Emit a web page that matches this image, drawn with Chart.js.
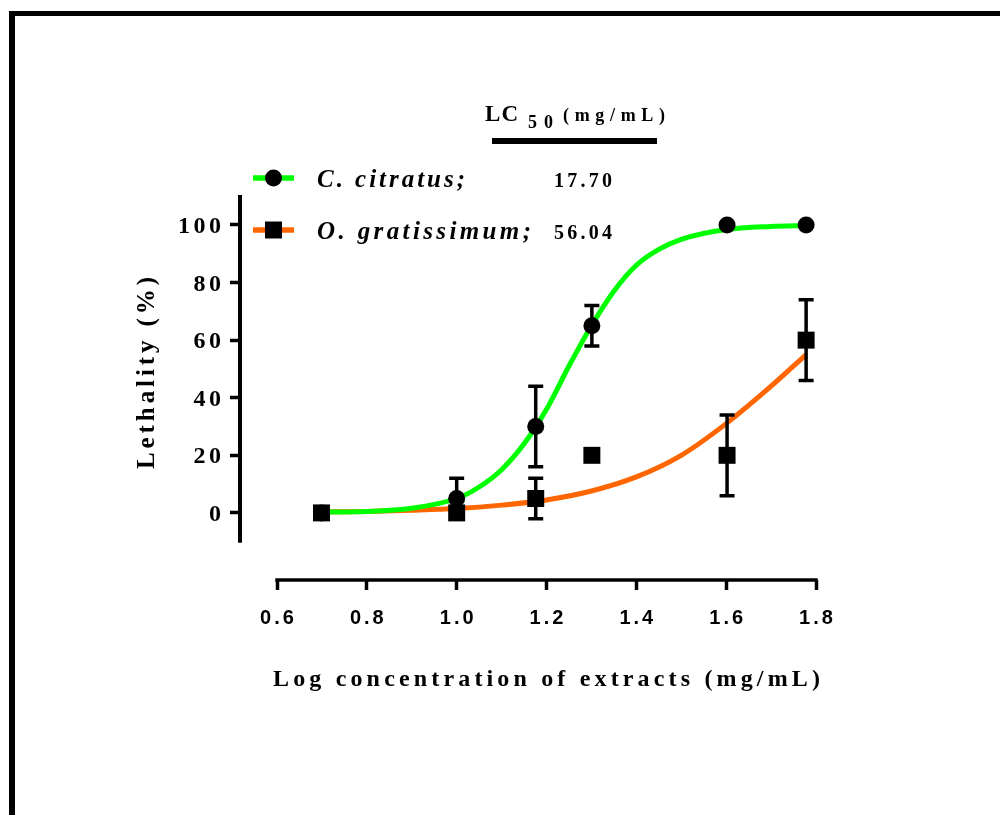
<!DOCTYPE html>
<html>
<head>
<meta charset="utf-8">
<script src="https://cdn.jsdelivr.net/npm/chart.js@4"></script>
<style>
  html, body { margin: 0; padding: 0; background: #fff; overflow: hidden; }
  #wrap { position: relative; width: 1000px; height: 815px; }
  #frame { position: absolute; left: 9px; top: 11px; right: 0; bottom: 0;
           border-top: 5px solid #000; border-left: 6px solid #000; pointer-events: none; }
</style>
</head>
<body>
<div id="wrap">
  <canvas id="chart" width="1000" height="815"></canvas>
  <div id="frame"></div>
</div>
<script>
'use strict';
// data
var seriesNames = ['C. citratus;', 'O. gratissimum;'];
var lc50Values = ['17.70', '56.04'];
var logConc = [0.699, 1.0, 1.176, 1.301, 1.602, 1.778];
var citratusMean = [0, 5, 30, 65, 100, 100];
var citratusErr = [0, 7, 14, 7, 0, 0];
var gratissimumMean = [0, 0, 5, 20, 20, 60];
var gratissimumErr = [0, 0, 7, 0, 14, 14];

// fitted curves
var citratusCurveX = [0.699, 0.8, 0.9, 1.0, 1.05, 1.1, 1.15, 1.2, 1.25, 1.3, 1.35, 1.4, 1.45, 1.5, 1.6, 1.7, 1.778];
var citratusCurveY = [0.3, 0.5, 1.6, 5, 9, 15, 24, 36, 51, 65, 77, 86, 91.5, 95, 98.4, 99.5, 99.8];
var gratissimumCurveX = [0.699, 0.8, 0.9, 1.0, 1.1, 1.2, 1.3, 1.4, 1.5, 1.6, 1.7, 1.778];
var gratissimumCurveY = [0.3, 0.5, 0.9, 1.5, 2.7, 4.5, 7.6, 12.5, 20, 31, 44, 55];

var xTicks = [0.6, 0.8, 1.0, 1.2, 1.4, 1.6, 1.8];
var yTicks = [0, 20, 40, 60, 80, 100];
var xMin = 0.5176, xMax = 1.8;
var yMin = -23.3, yMax = 110.4, yAxisEnd = -10.4;

var seriesColors = ['#00ff00', '#ff6600'];
var SERIF = '"Liberation Serif", "Times New Roman", serif';
var SANS = '"Liberation Sans", Arial, sans-serif';

function pts(xs, ys) {
  var out = [];
  for (var i = 0; i < xs.length; i++) out.push({x: xs[i], y: ys[i]});
  return out;
}

// draw text char by char, stretched to a given width
function drawFit(ctx, text, x, y, width) {
  var natural = 0, i;
  for (i = 0; i < text.length; i++) natural += ctx.measureText(text[i]).width;
  var gap = text.length > 1 ? (width - natural) / (text.length - 1) : 0;
  var cx = x;
  for (i = 0; i < text.length; i++) {
    ctx.fillText(text[i], cx, y);
    cx += ctx.measureText(text[i]).width + gap;
  }
}
function drawSpaced(ctx, text, x, y, gap, align) {
  var w = 0, i;
  for (i = 0; i < text.length; i++) w += ctx.measureText(text[i]).width;
  w += gap * (text.length - 1);
  var cx = align === 'center' ? x - w / 2 : (align === 'right' ? x - w : x);
  for (i = 0; i < text.length; i++) {
    ctx.fillText(text[i], cx, y);
    cx += ctx.measureText(text[i]).width + gap;
  }
}

function drawMarker(ctx, style, x, y) {
  ctx.beginPath();
  if (style === 'circle') {
    ctx.arc(x, y, 8.5, 0, Math.PI * 2);
  } else {
    ctx.rect(x - 8.5, y - 8.5, 17, 17);
  }
  ctx.fill();
}

var errorBars = {
  id: 'errorBars',
  afterDatasetsDraw: function (chart) {
    var ctx = chart.ctx;
    var xs = chart.scales.x, ys = chart.scales.y;
    var sets = [[citratusMean, citratusErr], [gratissimumMean, gratissimumErr]];
    ctx.save();
    ctx.strokeStyle = '#000';
    ctx.lineWidth = 3.5;
    sets.forEach(function (s) {
      for (var i = 0; i < logConc.length; i++) {
        if (!s[1][i]) continue;
        var px = xs.getPixelForValue(logConc[i]);
        var top = ys.getPixelForValue(s[0][i] + s[1][i]);
        var bot = ys.getPixelForValue(s[0][i] - s[1][i]);
        ctx.beginPath();
        ctx.moveTo(px, top); ctx.lineTo(px, bot);
        ctx.moveTo(px - 7.5, top); ctx.lineTo(px + 7.5, top);
        ctx.moveTo(px - 7.5, bot); ctx.lineTo(px + 7.5, bot);
        ctx.stroke();
      }
    });
    ctx.restore();
  }
};

var decorations = {
  id: 'decorations',
  afterDraw: function (chart) {
    var ctx = chart.ctx;
    var xs = chart.scales.x, ys = chart.scales.y;
    var area = chart.chartArea;
    ctx.save();
    ctx.fillStyle = '#000';
    ctx.strokeStyle = '#000';

    // axis lines (detached style)
    ctx.lineWidth = 4;
    ctx.beginPath();
    ctx.moveTo(area.left, ys.getPixelForValue(yMax));
    ctx.lineTo(area.left, ys.getPixelForValue(yAxisEnd));
    ctx.stroke();
    ctx.lineWidth = 3.5;
    ctx.beginPath();
    ctx.moveTo(xs.getPixelForValue(xTicks[0]) - 1.75, area.bottom);
    ctx.lineTo(xs.getPixelForValue(xTicks[xTicks.length - 1]) + 1.75, area.bottom);
    ctx.stroke();

    // tick labels
    ctx.textBaseline = 'alphabetic';
    ctx.font = 'bold 24px ' + SERIF;
    yTicks.forEach(function (v) {
      drawSpaced(ctx, String(v), area.left - 19, ys.getPixelForValue(v) + 8, 3.5, 'right');
    });
    ctx.font = 'bold 20px ' + SANS;
    xTicks.forEach(function (v) {
      drawSpaced(ctx, v.toFixed(1), xs.getPixelForValue(v), area.bottom + 44, 3, 'center');
    });

    // axis titles
    ctx.font = 'bold 24px ' + SERIF;
    drawFit(ctx, 'Log concentration of extracts (mg/mL)', 273, 686, 547);
    ctx.save();
    ctx.translate(154, 469);
    ctx.rotate(-Math.PI / 2);
    ctx.font = 'bold 25px ' + SERIF;
    drawFit(ctx, 'Lethality (%)', 0, 0, 192);
    ctx.restore();

    // LC50 header
    ctx.font = 'bold 23px ' + SERIF;
    drawFit(ctx, 'LC', 485, 121, 33);
    ctx.font = 'bold 18px ' + SERIF;
    drawFit(ctx, '50', 528, 128, 25);
    ctx.font = 'bold 18px ' + SERIF;
    drawFit(ctx, '(mg/mL)', 563, 121, 102);
    ctx.fillRect(492, 138, 165, 6);

    // legend rows
    var rowY = [178, 230];
    var nameW = [148, 214];
    var styles = ['circle', 'rect'];
    for (var i = 0; i < seriesNames.length; i++) {
      ctx.strokeStyle = seriesColors[i];
      ctx.lineWidth = 5.5;
      ctx.beginPath();
      ctx.moveTo(253, rowY[i]);
      ctx.lineTo(294, rowY[i]);
      ctx.stroke();
      ctx.fillStyle = '#000';
      drawMarker(ctx, styles[i], 273.5, rowY[i]);
      ctx.font = 'italic bold 25px ' + SERIF;
      drawFit(ctx, seriesNames[i], 317, rowY[i] + 9, nameW[i]);
      ctx.font = 'bold 20px ' + SERIF;
      drawFit(ctx, lc50Values[i], 554, rowY[i] + 9, 58);
    }
    ctx.restore();
  }
};

var ctx = document.getElementById('chart').getContext('2d');
new Chart(ctx, {
  type: 'line',
  data: {
    datasets: [
      {
        label: seriesNames[1],
        data: pts(logConc, gratissimumMean),
        showLine: false,
        pointStyle: 'rect',
        pointRadius: 12,
        pointBackgroundColor: '#000',
        pointBorderWidth: 0
      },
      {
        label: seriesNames[0],
        data: pts(logConc, citratusMean),
        showLine: false,
        pointStyle: 'circle',
        pointRadius: 8.5,
        pointBackgroundColor: '#000',
        pointBorderWidth: 0
      },
      {
        label: 'citratus fit',
        data: pts(citratusCurveX, citratusCurveY),
        borderColor: seriesColors[0],
        borderWidth: 5,
        pointRadius: 0,
        cubicInterpolationMode: 'monotone',
        fill: false
      },
      {
        label: 'gratissimum fit',
        data: pts(gratissimumCurveX, gratissimumCurveY),
        borderColor: seriesColors[1],
        borderWidth: 5,
        pointRadius: 0,
        cubicInterpolationMode: 'monotone',
        fill: false
      }
    ]
  },
  options: {
    responsive: false,
    animation: false,
    layout: { padding: { left: 230, right: 184, top: 195, bottom: 225 } },
    plugins: { legend: { display: false }, tooltip: { enabled: false } },
    scales: {
      x: {
        type: 'linear',
        min: xMin,
        max: xMax,
        afterBuildTicks: function (s) { s.ticks = xTicks.map(function (v) { return {value: v}; }); },
        afterFit: function (s) { s.height = 10; },
        grid: { drawOnChartArea: false, drawTicks: true, tickLength: 10, tickWidth: 3.5, color: '#000' },
        border: { display: false },
        ticks: { display: false }
      },
      y: {
        type: 'linear',
        min: yMin,
        max: yMax,
        afterBuildTicks: function (s) { s.ticks = yTicks.map(function (v) { return {value: v}; }); },
        afterFit: function (s) { s.width = 10; },
        grid: { drawOnChartArea: false, drawTicks: true, tickLength: 10, tickWidth: 3.5, color: '#000' },
        border: { display: false },
        ticks: { display: false }
      }
    }
  },
  plugins: [errorBars, decorations]
});
</script>
</body>
</html>
